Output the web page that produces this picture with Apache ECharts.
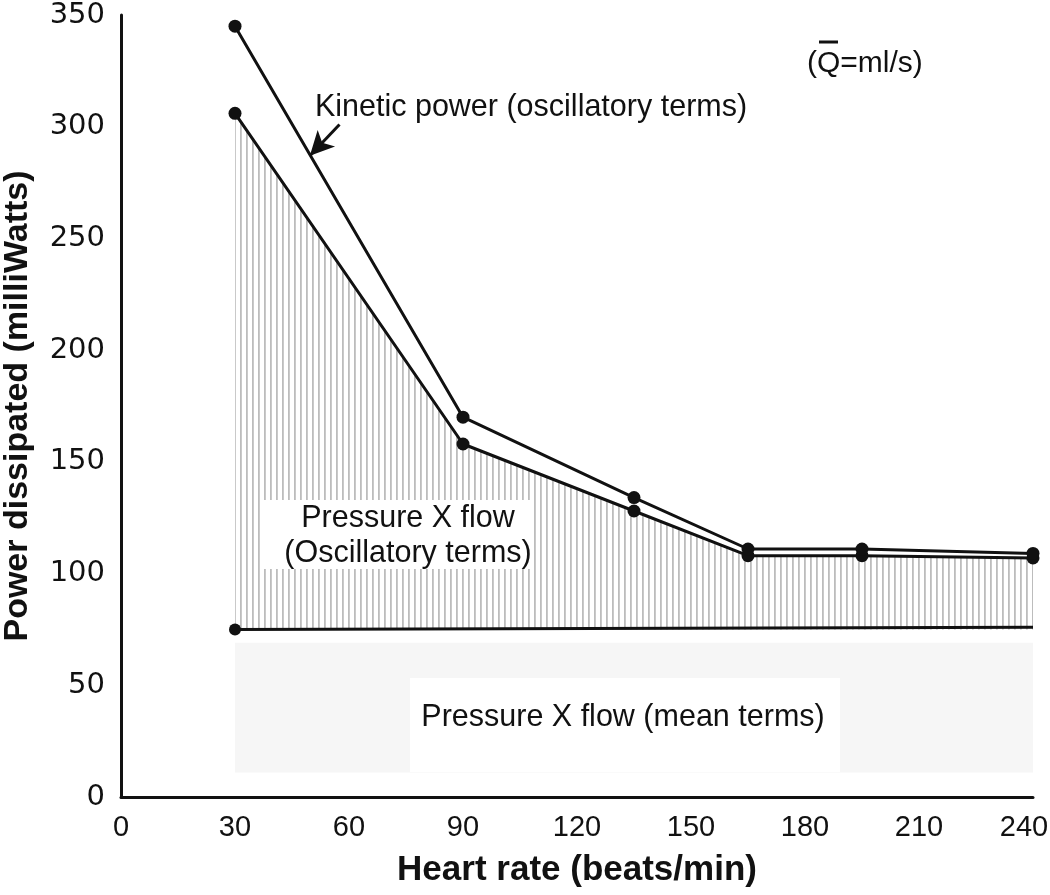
<!DOCTYPE html>
<html>
<head>
<meta charset="utf-8">
<script src="https://cdn.jsdelivr.net/npm/echarts@6/dist/echarts.min.js"></script>
<style>
html,body{margin:0;padding:0;background:#fff;}
#chart{width:1050px;height:895px;}
</style>
</head>
<body>
<div id="chart"></div>
<script>
// ---- data ----
const heartRate = [30, 90, 135, 165, 195, 240];
const totalPower = [345, 170, 134, 111, 111, 109];      // kinetic + pressure x flow (oscillatory)
const oscPower = [306, 158, 128, 108, 108, 107];        // pressure x flow (oscillatory terms)
const meanX = [30, 240];
const meanPower = [75, 76];                             // pressure x flow (mean terms)
const xTicks = [0, 30, 60, 90, 120, 150, 180, 210, 240];
const yTicks = [0, 50, 100, 150, 200, 250, 300, 350];

const FONT = '"Liberation Sans", Arial, Helvetica, sans-serif';
const FONT_Y = '"DejaVu Sans", "Liberation Sans", sans-serif';

// vertical hatch pattern
const pc = document.createElement('canvas');
pc.width = 6; pc.height = 10;
const pctx = pc.getContext('2d');
pctx.fillStyle = '#bcbcbc';
pctx.fillRect(0, 0, 1.8, 10);

const chart = echarts.init(document.getElementById('chart'), null, {renderer: 'canvas'});

const zip = (xs, ys) => xs.map((x, i) => [x, ys[i]]);
const xMax = xTicks[xTicks.length - 1];

chart.setOption({
  animation: false,
  backgroundColor: '#fff',
  grid: {left: 121, right: 17, top: 15, bottom: 98, containLabel: false, outerBoundsMode: 'none'},
  xAxis: {
    type: 'value', min: xTicks[0], max: xMax, interval: 30,
    axisLine: {show: true, lineStyle: {color: '#111', width: 3}},
    axisTick: {show: false},
    splitLine: {show: false},
    axisLabel: {
      color: '#111', fontSize: 29, fontFamily: FONT, margin: 16,
      formatter: v => v === xMax ? '{last|' + v + '}' : String(v),
      rich: {last: {fontSize: 29, fontFamily: FONT, color: '#111', padding: [0, 18, 0, 0]}}
    },
    name: 'Heart rate (beats/min)', nameLocation: 'middle', nameGap: 56,
    nameTextStyle: {color: '#111', fontSize: 35, fontWeight: 'bold', fontFamily: FONT}
  },
  yAxis: {
    type: 'value', min: yTicks[0], max: yTicks[yTicks.length - 1], interval: 50,
    axisLine: {show: true, lineStyle: {color: '#111', width: 3}},
    axisTick: {show: false},
    splitLine: {show: false},
    axisLabel: {color: '#111', fontSize: 29, fontFamily: FONT_Y, margin: 16},
    name: 'Power dissipated (milliWatts)', nameLocation: 'middle', nameGap: 86,
    nameTextStyle: {color: '#111', fontSize: 34, fontWeight: 'bold', fontFamily: FONT}
  },
  series: [
    {
      type: 'line', name: 'mean', data: zip(meanX, meanPower),
      showSymbol: true, symbol: 'circle', symbolSize: (v, p) => p.dataIndex === 0 ? 12 : 0,
      itemStyle: {color: '#111'}, lineStyle: {color: '#111', width: 3},
      z: 5,
      markArea: {
        silent: true,
        itemStyle: {color: '#f6f6f6'},
        data: [[{coord: [30, 11]}, {coord: [240, 69]}]]
      }
    },
    {
      type: 'line', name: 'osc', data: zip(heartRate, oscPower),
      symbol: 'circle', symbolSize: 13,
      itemStyle: {color: '#111'}, lineStyle: {color: '#111', width: 3},
      areaStyle: {origin: 75, color: {image: pc, repeat: 'repeat'}, opacity: 1},
      z: 4
    },
    {
      type: 'line', name: 'total', data: zip(heartRate, totalPower),
      symbol: 'circle', symbolSize: 13,
      itemStyle: {color: '#111'}, lineStyle: {color: '#111', width: 3},
      z: 6,
      markLine: {
        silent: true, symbol: ['none', 'arrow'], symbolSize: [18, 24],
        lineStyle: {color: '#111', width: 3, type: 'solid'},
        label: {show: false},
        data: [[{coord: [57.5, 301]}, {coord: [49.7, 287]}]]
      }
    }
  ],
  graphic: [
    // white boxes behind labels
    {type: 'rect', shape: {x: 262, y: 500, width: 272, height: 69}, style: {fill: '#fff'}, z: 50},
    {type: 'rect', shape: {x: 410, y: 678, width: 430, height: 94}, style: {fill: '#fff'}, z: 50},
    {type: 'text', x: 531, y: 108, z: 60, style: {text: 'Kinetic power (oscillatory terms)', font: '30.5px ' + FONT, fill: '#111', align: 'center', verticalAlign: 'middle'}},
    {type: 'text', x: 408, y: 519, z: 60, style: {text: 'Pressure X flow', font: '30.5px ' + FONT, fill: '#111', align: 'center', verticalAlign: 'middle'}},
    {type: 'text', x: 408, y: 554, z: 60, style: {text: '(Oscillatory terms)', font: '30.5px ' + FONT, fill: '#111', align: 'center', verticalAlign: 'middle'}},
    {type: 'text', x: 623, y: 718, z: 60, style: {text: 'Pressure X flow (mean terms)', font: '30.5px ' + FONT, fill: '#111', align: 'center', verticalAlign: 'middle'}},
    {type: 'text', x: 807, y: 64, z: 60, style: {text: '(Q=ml/s)', font: '30px ' + FONT, fill: '#111', align: 'left', verticalAlign: 'middle'}},
    {type: 'line', z: 60, shape: {x1: 819, y1: 42, x2: 838, y2: 42}, style: {stroke: '#111', lineWidth: 3}}
  ]
});
</script>
</body>
</html>
